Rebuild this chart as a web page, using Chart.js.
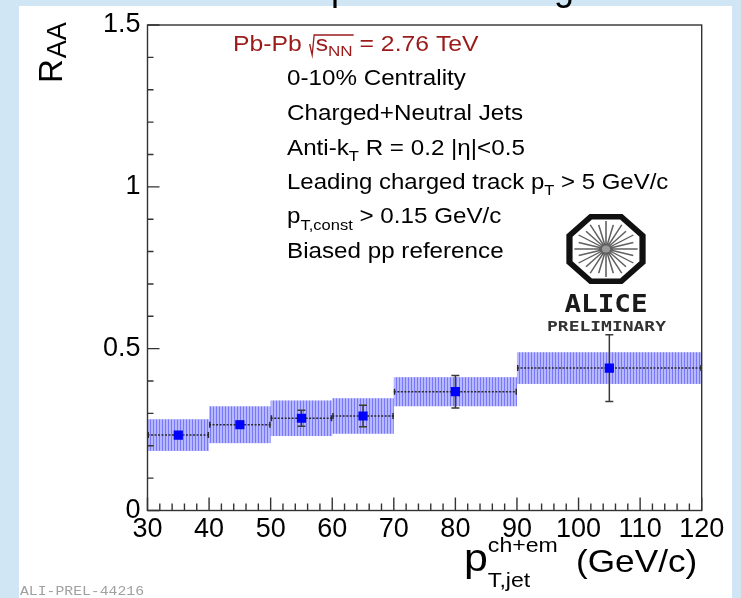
<!DOCTYPE html>
<html>
<head>
<meta charset="utf-8">
<title>Jet R_AA, Pb-Pb 2.76 TeV</title>
<script src="https://cdn.jsdelivr.net/npm/chart.js@4.4.1/dist/chart.umd.min.js"></script>
<style>
  html, body { margin: 0; padding: 0; background: #d0e6f5; overflow: hidden; }
  canvas { display: block; }
</style>
</head>
<body>
<canvas id="raa" width="741" height="598"></canvas>
<script>
// ---- data: jet pT bins (GeV/c) and the measured R_AA ----
const binLow    = [30, 40, 50, 60, 70, 90];
const binHigh   = [40, 50, 60, 70, 90, 120];
const binCenter = [35, 45, 55, 65, 80, 105];
const raa       = [0.233, 0.265, 0.285, 0.292, 0.367, 0.440];
const statErr   = [0.010, 0.011, 0.025, 0.033, 0.050, 0.103];
const sysErr    = [0.049, 0.057, 0.055, 0.055, 0.045, 0.049];

// ---- axis tick labels ----
const xTickLabels = ['30', '40', '50', '60', '70', '80', '90', '100', '110', '120'];
const yTickLabels = ['0', '0.5', '1', '1.5'];

const FONT = '"Liberation Sans", Arial, sans-serif';
const SX = 1.1;   // text is drawn slightly wide

// vertical hatch fill for systematic boxes
function hatchPattern(ctx) {
  const c = document.createElement('canvas');
  c.width = 3; c.height = 1;
  const g = c.getContext('2d');
  g.fillStyle = '#b8b8ff'; g.fillRect(0, 0, 3, 1);
  g.fillStyle = '#7878ff'; g.fillRect(0, 0, 1, 1);
  return ctx.createPattern(c, 'repeat');
}

// draws a run of text pieces (normal / sub / superscript) left to right
function rich(ctx, x, y, parts, color) {
  let cx = x;
  for (const p of parts) {
    ctx.save();
    ctx.translate(cx, y + (p.dy || 0));
    ctx.scale(SX, 1);
    ctx.font = (p.bold ? 'bold ' : '') + p.size + 'px ' + FONT;
    ctx.fillStyle = color;
    ctx.textBaseline = 'alphabetic';
    ctx.fillText(p.t, 0, 0);
    const w = ctx.measureText(p.t).width * SX;
    ctx.restore();
    cx += w;
  }
  return cx;
}

// text squeezed/stretched to a given width
function fitText(ctx, s, cx, y, font, width, color, align) {
  ctx.save();
  ctx.font = font;
  const w = ctx.measureText(s).width;
  const k = width / w;
  ctx.translate(align === 'left' ? cx : cx - width / 2, y);
  ctx.scale(k, 1);
  ctx.fillStyle = color;
  ctx.textBaseline = 'alphabetic';
  ctx.fillText(s, 0, 0);
  ctx.restore();
}

const backgroundPlugin = {
  id: 'panel',
  beforeDraw(chart) {
    const ctx = chart.ctx;
    ctx.save();
    ctx.fillStyle = '#d0e6f5';
    ctx.fillRect(0, 0, chart.width, chart.height);
    ctx.fillStyle = '#ffffff';
    ctx.fillRect(19, 6, 713, chart.height - 6);
    // bottom of the cut-off heading line
    ctx.fillStyle = '#000';
    ctx.font = '36px ' + FONT;
    ctx.textBaseline = 'alphabetic';
    ctx.fillText('p', 331, 0);
    ctx.fillText('g', 554, 0);
    ctx.restore();
  }
};

// systematic boxes, bin-width lines and statistical error bars
const errorPlugin = {
  id: 'errors',
  beforeDatasetsDraw(chart) {
    const { ctx, scales: { x, y } } = chart;
    ctx.save();
    ctx.fillStyle = hatchPattern(ctx);
    for (let i = 0; i < raa.length; i++) {
      const x0 = x.getPixelForValue(binLow[i]);
      const x1 = x.getPixelForValue(binHigh[i]);
      const y0 = y.getPixelForValue(raa[i] + sysErr[i]);
      const y1 = y.getPixelForValue(raa[i] - sysErr[i]);
      ctx.fillRect(x0, y0, x1 - x0, y1 - y0);
    }
    ctx.strokeStyle = '#2a2a2a';
    ctx.lineWidth = 1.5;
    for (let i = 0; i < raa.length; i++) {
      const x0 = x.getPixelForValue(binLow[i]);
      const x1 = x.getPixelForValue(binHigh[i]);
      const xc = x.getPixelForValue(binCenter[i]);
      const yc = y.getPixelForValue(raa[i]);
      // bin width
      ctx.setLineDash([2, 1.5]);
      ctx.beginPath();
      ctx.moveTo(x0, yc); ctx.lineTo(x1, yc);
      ctx.stroke();
      ctx.setLineDash([]);
      ctx.beginPath();
      ctx.moveTo(x0 + 0.75, yc - 3); ctx.lineTo(x0 + 0.75, yc + 3);
      ctx.moveTo(x1 - 0.75, yc - 3); ctx.lineTo(x1 - 0.75, yc + 3);
      ctx.stroke();
      // statistical error
      const ya = y.getPixelForValue(raa[i] + statErr[i]);
      const yb = y.getPixelForValue(raa[i] - statErr[i]);
      ctx.strokeStyle = '#3a3a3a';
      ctx.beginPath();
      ctx.moveTo(xc, ya); ctx.lineTo(xc, yb);
      ctx.moveTo(xc - 4, ya); ctx.lineTo(xc + 4, ya);
      ctx.moveTo(xc - 4, yb); ctx.lineTo(xc + 4, yb);
      ctx.stroke();
      ctx.strokeStyle = '#2a2a2a';
    }
    ctx.restore();
  }
};

// frame with inward ticks
const framePlugin = {
  id: 'frame',
  afterDatasetsDraw(chart) {
    const { ctx, chartArea: a, scales: { x, y } } = chart;
    ctx.save();
    ctx.strokeStyle = '#333';
    ctx.lineWidth = 1.4;
    ctx.strokeRect(a.left, a.top, a.right - a.left, a.bottom - a.top);
    ctx.beginPath();
    for (let v = 30; v <= 120.001; v += 2) {
      const px = x.getPixelForValue(v);
      const major = Math.abs(v % 10) < 1e-6;
      ctx.moveTo(px, a.bottom); ctx.lineTo(px, a.bottom - (major ? 13 : 7));
    }
    for (let k = 0; k <= 15; k++) {
      const v = k / 10;
      const py = y.getPixelForValue(v);
      const major = k % 5 === 0;
      ctx.moveTo(a.left, py); ctx.lineTo(a.left + (major ? 12 : 6), py);
    }
    ctx.stroke();
    ctx.restore();
  }
};

// labels, axis titles and logo
const textPlugin = {
  id: 'texts',
  afterDraw(chart) {
    const ctx = chart.ctx;
    ctx.save();

    // collision system line with radical sign
    const red = '#9b1b1b';
    let cx = rich(ctx, 233, 51, [{ t: 'Pb-Pb ', size: 22.5 }], red);
    ctx.strokeStyle = red;
    ctx.lineWidth = 1.3;
    const sStart = cx + 7;
    let end = rich(ctx, sStart, 51, [{ t: 's', size: 22.5 }, { t: 'NN', size: 15.5, dy: 5 }], red);
    ctx.beginPath();
    ctx.moveTo(cx + 1, 44); ctx.lineTo(cx + 3.5, 55); ctx.lineTo(cx + 5.5, 35);
    ctx.lineTo(end + 1, 35);
    ctx.stroke();
    rich(ctx, end, 51, [{ t: ' = 2.76 TeV', size: 22.5 }], red);

    const L = 287;
    rich(ctx, L, 85, [{ t: '0-10% Centrality', size: 22 }], '#000');
    rich(ctx, L, 120, [{ t: 'Charged+Neutral Jets', size: 22 }], '#000');
    rich(ctx, L, 155, [{ t: 'Anti-k', size: 22 }, { t: 'T', size: 15, dy: 6 },
                       { t: ' R = 0.2 |\u03b7|<0.5', size: 22 }], '#000');
    rich(ctx, L, 189, [{ t: 'Leading charged track p', size: 21.8 }, { t: 'T', size: 15, dy: 6 },
                       { t: ' > 5 GeV/c', size: 21.8 }], '#000');
    rich(ctx, L, 223, [{ t: 'p', size: 22 }, { t: 'T,const', size: 15, dy: 7 },
                       { t: ' > 0.15 GeV/c', size: 22 }], '#000');
    rich(ctx, L, 258, [{ t: 'Biased pp reference', size: 22 }], '#000');

    // x-axis title
    const px = rich(ctx, 464, 571, [{ t: 'p', size: 39 }], '#000');
    rich(ctx, px, 552, [{ t: 'ch+em', size: 21 }], '#000');
    rich(ctx, px, 587, [{ t: 'T,jet', size: 21 }], '#000');
    rich(ctx, 576, 572, [{ t: '(GeV/c)', size: 32 }], '#000');

    // y-axis title, rotated
    ctx.save();
    ctx.translate(62, 83);
    ctx.rotate(-Math.PI / 2);
    ctx.fillStyle = '#000';
    ctx.textBaseline = 'alphabetic';
    ctx.font = '33px ' + FONT;
    ctx.fillText('R', 0, 0);
    const rw = ctx.measureText('R').width;
    ctx.font = '27px ' + FONT;
    ctx.fillText('AA', rw + 1, 4);
    ctx.restore();

    // ALICE logo: octagon with radial spokes
    const lx = 606, ly = 249;
    ctx.save();
    ctx.translate(lx, ly);
    ctx.scale(1.13, 1);
    ctx.strokeStyle = '#111';
    ctx.lineWidth = 5.5;
    ctx.lineJoin = 'miter';
    ctx.beginPath();
    const R = 35;
    for (let k = 0; k < 8; k++) {
      const ang = Math.PI / 8 + k * Math.PI / 4;
      const vx = R * Math.cos(ang), vy = R * Math.sin(ang);
      if (k === 0) ctx.moveTo(vx, vy); else ctx.lineTo(vx, vy);
    }
    ctx.closePath();
    ctx.stroke();
    ctx.strokeStyle = '#606060';
    ctx.lineWidth = 1.4;
    ctx.beginPath();
    for (let k = 0; k < 24; k++) {
      const ang = k * Math.PI / 12;
      const r0 = 3, r1 = (k % 2 === 0) ? 28 : 25;
      ctx.moveTo(r0 * Math.cos(ang), r0 * Math.sin(ang));
      ctx.lineTo(r1 * Math.cos(ang), r1 * Math.sin(ang));
    }
    ctx.stroke();
    ctx.fillStyle = '#999';
    ctx.beginPath(); ctx.arc(0, 0, 3.5, 0, 2 * Math.PI); ctx.fill();
    ctx.restore();

    fitText(ctx, 'ALICE', lx, 312, 'bold 25px "DejaVu Sans Mono", monospace', 83, '#1a1a1a');
    fitText(ctx, 'PRELIMINARY', lx + 0.5, 331, 'bold 14px "DejaVu Sans Mono", monospace', 119, '#333');

    // figure id
    fitText(ctx, 'ALI-PREL-44216', 20, 595, '12px "Liberation Mono", monospace', 124, '#a0a0a0', 'left');

    ctx.restore();
  }
};

const points = binCenter.map((v, i) => ({ x: v, y: raa[i] }));

new Chart(document.getElementById('raa'), {
  type: 'scatter',
  data: {
    datasets: [{
      label: 'R_AA',
      data: points,
      pointStyle: 'rect',
      pointRadius: 6.5,
      pointHoverRadius: 6.5,
      backgroundColor: '#0000ff',
      borderColor: '#0000ff',
      borderWidth: 0
    }]
  },
  options: {
    responsive: false,
    animation: false,
    events: [],
    layout: { padding: { left: 0, right: 39.3, top: 25, bottom: 0 } },
    plugins: { legend: { display: false }, tooltip: { enabled: false } },
    scales: {
      x: {
        type: 'linear',
        min: 30, max: 120,
        afterFit: s => { s.height = 87.5; },
        afterBuildTicks: s => { s.ticks = xTickLabels.map(t => ({ value: Number(t) })); },
        grid: { display: false, drawTicks: false },
        border: { display: false },
        ticks: {
          autoSkip: false, maxRotation: 0, padding: 3,
          color: '#000', font: { family: FONT, size: 27 },
          callback: (v, i) => xTickLabels[i]
        }
      },
      y: {
        min: 0, max: 1.5,
        afterFit: s => { s.width = 147.5; },
        afterBuildTicks: s => { s.ticks = yTickLabels.map(t => ({ value: Number(t) })); },
        grid: { display: false, drawTicks: false },
        border: { display: false },
        ticks: {
          autoSkip: false, padding: 7,
          color: '#000', font: { family: FONT, size: 27 },
          callback: (v, i) => yTickLabels[i]
        }
      }
    }
  },
  plugins: [backgroundPlugin, errorPlugin, framePlugin, textPlugin]
});
</script>
</body>
</html>
